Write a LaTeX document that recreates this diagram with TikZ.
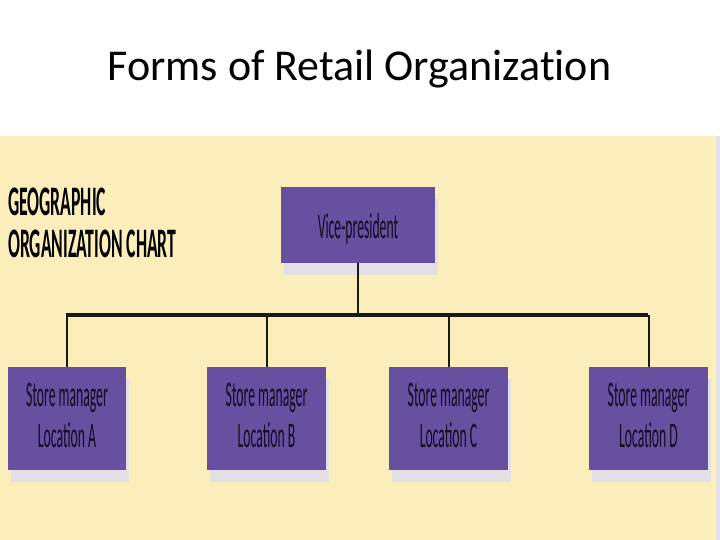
\documentclass[tikz,border=0pt]{standalone}
\usepackage{fontspec}
\setmainfont[Ligatures=NoCommon]{Carlito}
\newfontfamily\chartfont[FakeStretch=0.38]{Carlito}
\newfontfamily\headfont[FakeStretch=0.42]{Carlito}
\usetikzlibrary{shadows}
\definecolor{panelyellow}{RGB}{252,238,186}
\definecolor{panelgray}{RGB}{228,226,232}
\definecolor{boxpurple}{RGB}{104,80,160}
\definecolor{shadowgray}{RGB}{226,224,228}
\definecolor{boxtextcol}{RGB}{18,10,34}
\tikzset{
  orgbox/.style={draw=none, fill=boxpurple, inner sep=0pt,
    general shadow={fill=shadowgray, shadow xshift=3pt, shadow yshift=-12pt}},
  boxlabel/.style={inner sep=0pt, anchor=base, text=boxtextcol,
    font=\chartfont\fontsize{36}{40}\selectfont},
  chartlabel/.style={inner sep=0pt, anchor=base west, text=black,
    font=\headfont\bfseries\fontsize{42}{46}\selectfont},
  thinline/.style={draw=black!90, line width=2pt},
  barline/.style={draw=black!90, line width=4pt},
}
\begin{document}
\begin{tikzpicture}[x=1pt,y=-1pt]
\useasboundingbox (0,0) rectangle (720,540);
% background panel
\fill[white] (0,0) rectangle (720,540);
\fill[panelyellow] (0,136) rectangle (716,540);
\fill[panelgray] (716,136) rectangle (720,540);
% title
\node[inner sep=0pt, anchor=base, font=\fontsize{44}{50}\selectfont] (title) at (359.5,81) {Forms of Retail Organization};
% chart heading
\node[chartlabel] (head1) at (8,215) {GEOGRAPHIC};
\node[chartlabel] (head2) at (8,257) {ORGANIZATION CHART};
% vice-president box
\node[orgbox, minimum width=154pt, minimum height=76pt] (vp) at (358,225) {};
\node[boxlabel] (vptext) at (358,238) {Vice-president};
% store manager boxes
\foreach \n/\x/\w/\l in {a/67/118/A, b/266.5/119/B, c/448.5/119/C, d/648.5/119/D}{
  \node[orgbox, minimum width=\w pt, minimum height=103pt] (\n) at (\x,418.5) {};
  \node[boxlabel] (\n1) at (\x,406) {Store manager};
  \node[boxlabel] (\n2) at (\x,447) {Location \l};
}
% connectors
\coordinate (bl) at (66,315);
\coordinate (br) at (648,315);
\draw[thinline] (vp.south) -- (vp.south |- bl);
\draw[barline] (bl) -- (br);
\foreach \n in {a,b,c,d}{
  \draw[thinline] (\n.north) -- (\n.north |- bl);
}
\end{tikzpicture}
\end{document}
